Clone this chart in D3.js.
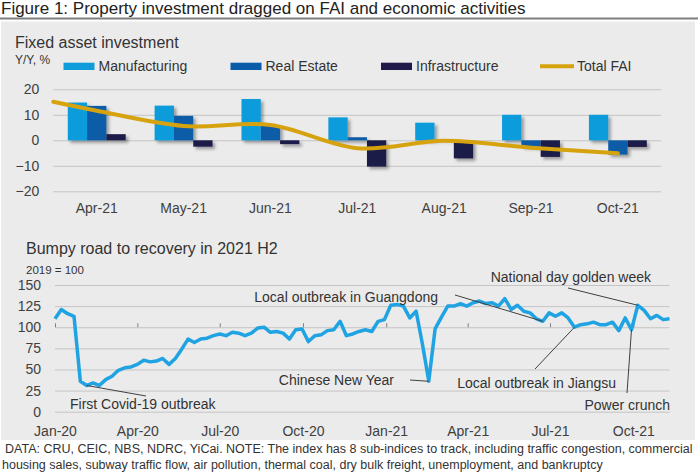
<!DOCTYPE html>
<html>
<head>
<meta charset="utf-8">
<script src="https://cdn.jsdelivr.net/npm/d3@7"></script>
<style>
  body { margin: 0; background: #fff; }
  svg { display: block; font-family: "Liberation Sans", Arial, sans-serif; }
  .grid line { stroke: #c4c4c4; stroke-width: 1; }
  .grid path { display: none; }
  .ticklabels text { fill: #404040; }
</style>
</head>
<body>
<svg id="chart" width="698" height="473"></svg>
<script>
// --- Fixed asset investment (Y/Y, %) ---
const months = ['Apr-21', 'May-21', 'Jun-21', 'Jul-21', 'Aug-21', 'Sep-21', 'Oct-21'];
const seriesNames = ['Manufacturing', 'Real Estate', 'Infrastructure'];
const manufacturing = [14.8, 13.6, 16.2, 9.0, 6.9, 10.0, 10.0];
const realEstate = [13.5, 9.6, 6.0, 1.2, 0.3, -2.5, -5.6];
const infrastructure = [2.4, -2.5, -1.5, -10.3, -7.1, -6.5, -2.6];
const totalFaiStart = 15.1;   // where the smoothed line enters on the left edge
const totalFai = [11.6, 5.6, 6.0, -3.1, -0.2, -2.9, -5.1];
const faiTicks = [-20, -10, 0, 10, 20];

// --- Activity index, 2019 = 100, weekly from 1 Jan 2020 ---
const activityStart = new Date(2020, 0, 1);
const activity = [
  110, 121, 116, 113, 36, 31, 34, 31, 38, 42,
  49, 52, 53, 56, 61, 59, 60, 63, 56, 63,
  74, 86, 82, 86, 87, 90, 92, 90, 94, 93,
  90, 93, 99, 100, 94, 95, 93, 86, 97, 98,
  83, 90, 91, 96, 97, 107, 90, 92, 95, 97,
  95, 107, 109, 126, 127, 125, 111, 119, 80, 36,
  98, 112, 125, 125, 128, 125, 129, 131, 128, 129,
  125, 134, 121, 126, 119, 117, 110, 107, 117, 113,
  117, 111, 100, 103, 104, 106, 103, 103, 106, 96,
  111, 97, 126, 120, 110, 114, 109, 110
];
const activityTicks = [0, 25, 50, 75, 100, 125, 150];
// week index of the point each note points to
const notes = [
  { text: 'First Covid-19 outbreak', week: 5, anchor: 'start', tx: 70, ty: 408.5, lx: 146, ly: 396 },
  { text: 'Chinese New Year', week: 59, anchor: 'end', tx: 394, ty: 384.5, lx: 410, ly: 380 },
  { text: 'Local outbreak in Guangdong', week: 77, anchor: 'end', tx: 438, ty: 301.5, lx: 455, ly: 295 },
  { text: 'Local outbreak in Jiangsu', week: 82, anchor: 'end', tx: 616, ty: 388, lx: 535, ly: 369 },
  { text: 'Power crunch', week: 91, anchor: 'end', tx: 670, ty: 410, lx: 627, ly: 393 },
  { text: 'National day golden week', week: 92, anchor: 'end', tx: 651, ty: 281.5, lx: 568, ly: 288 }
];

const svg = d3.select('#chart');
const textColor = '#333';

// filter for the bar shadow
const defs = svg.append('defs');
defs.append('filter').attr('id', 'shadow')
  .attr('x', '-20%').attr('y', '-20%').attr('width', '160%').attr('height', '160%')
  .append('feDropShadow')
  .attr('dx', 2.5).attr('dy', 2.5).attr('stdDeviation', 1.5)
  .attr('flood-color', '#000').attr('flood-opacity', 0.35);

svg.append('rect').attr('width', 698).attr('height', 473).attr('fill', '#fff');
svg.append('text')
  .attr('x', 1).attr('y', 13.5)
  .attr('font-size', 17).attr('fill', '#222')
  .text('Figure 1: Property investment dragged on FAI and economic activities');
svg.append('line')
  .attr('x1', 0).attr('x2', 698).attr('y1', 18.5).attr('y2', 18.5)
  .attr('stroke', '#7f7f7f').attr('stroke-width', 2);
svg.append('rect')
  .attr('x', 1).attr('y', 21.5).attr('width', 694).attr('height', 418.5)
  .attr('fill', '#ebebeb');

// ================= top chart =================
const fai = { left: 53.3, right: 661.3, top: 89.3, bottom: 191.3 };
const colors = { 'Manufacturing': '#0f9cdb', 'Real Estate': '#0a5ca8', 'Infrastructure': '#1f1a4a' };
const faiLine = '#d6a30f';

svg.append('text').attr('x', 15).attr('y', 47.5)
  .attr('font-size', 16).attr('fill', textColor).text('Fixed asset investment');
svg.append('text').attr('x', 15).attr('y', 63.5)
  .attr('font-size', 12).attr('fill', textColor).text('Y/Y, %');

const x0 = d3.scaleBand().domain(months)
  .range([fai.left, fai.right])
  .paddingInner(1 / 3).paddingOuter(1 / 6);
const x1 = d3.scaleBand().domain(seriesNames).range([0, x0.bandwidth()]);
const y = d3.scaleLinear().domain([-20, 20]).range([fai.bottom, fai.top]);

const yAxisTop = svg.append('g')
  .attr('class', 'grid ticklabels')
  .attr('transform', `translate(${fai.left},0)`)
  .call(d3.axisLeft(y).tickValues(faiTicks)
    .tickSize(-(fai.right - fai.left)).tickPadding(14));
yAxisTop.selectAll('text').attr('font-size', 14).attr('font-family', null);

svg.append('g')
  .attr('class', 'grid ticklabels')
  .attr('transform', `translate(0,${fai.bottom})`)
  .call(d3.axisBottom(x0).tickSize(0).tickPadding(12))
  .selectAll('text').attr('font-size', 14).attr('font-family', null);

const barRows = months.map((m, i) => ({
  month: m,
  values: [
    { name: 'Manufacturing', v: manufacturing[i] },
    { name: 'Real Estate', v: realEstate[i] },
    { name: 'Infrastructure', v: infrastructure[i] }
  ]
}));

const groups = svg.append('g').attr('filter', 'url(#shadow)')
  .selectAll('g').data(barRows).enter()
  .append('g')
  .attr('transform', d => `translate(${x0(d.month)},0)`);

groups.selectAll('rect').data(d => d.values).enter()
  .append('rect')
  .attr('x', d => x1(d.name))
  .attr('width', x1.bandwidth())
  .attr('y', d => y(Math.max(0, d.v)))
  .attr('height', d => Math.abs(y(d.v) - y(0)))
  .attr('fill', d => colors[d.name]);

const faiPoints = [[fai.left, totalFaiStart]]
  .concat(months.map((m, i) => [x0(m) + x0.bandwidth() / 2, totalFai[i]]));
svg.append('path')
  .datum(faiPoints)
  .attr('fill', 'none')
  .attr('stroke', faiLine)
  .attr('stroke-width', 4)
  .attr('stroke-linecap', 'round')
  .attr('d', d3.line().x(d => d[0]).y(d => y(d[1])).curve(d3.curveCatmullRom.alpha(0.5)));

// legend
const legendItems = [
  { name: 'Manufacturing', x: 63.5, type: 'bar' },
  { name: 'Real Estate', x: 230.5, type: 'bar' },
  { name: 'Infrastructure', x: 381, type: 'bar' },
  { name: 'Total FAI', x: 540, type: 'line' }
];
const legend = svg.append('g');
legendItems.forEach(it => {
  if (it.type === 'bar') {
    legend.append('rect').attr('x', it.x).attr('y', 62.7)
      .attr('width', 31).attr('height', 7.3).attr('fill', colors[it.name]);
  } else {
    legend.append('line').attr('x1', it.x).attr('x2', it.x + 34)
      .attr('y1', 66.3).attr('y2', 66.3)
      .attr('stroke', faiLine).attr('stroke-width', 4);
  }
  legend.append('text')
    .attr('x', it.x + (it.type === 'bar' ? 35 : 37)).attr('y', 71)
    .attr('font-size', 14).attr('fill', textColor).text(it.name);
});

// ================= bottom chart =================
const act = { left: 55, right: 669.5, top: 285, bottom: 411.7 };
const weeks = activity.map((v, i) => d3.timeDay.offset(activityStart, 7 * i));

svg.append('text').attr('x', 26).attr('y', 253.5)
  .attr('font-size', 16).attr('fill', textColor).text('Bumpy road to recovery in 2021 H2');
svg.append('text').attr('x', 26).attr('y', 273.5)
  .attr('font-size', 11.5).attr('fill', textColor).text('2019 = 100');

const bx = d3.scaleTime().domain([weeks[0], weeks[weeks.length - 1]]).range([act.left, act.right]);
const by = d3.scaleLinear().domain([0, 150]).range([act.bottom, act.top]);

const yAxisBottom = svg.append('g')
  .attr('class', 'grid ticklabels')
  .attr('transform', `translate(${act.left},0)`)
  .call(d3.axisLeft(by).tickValues(activityTicks)
    .tickSize(-(act.right - act.left)).tickPadding(14));
yAxisBottom.selectAll('text').attr('font-size', 14).attr('font-family', null);
yAxisBottom.selectAll('.tick').filter(d => d === 100).select('line')
  .attr('stroke', '#808080').attr('stroke-width', 1.5);

// category axis crosses at 100, tick marks point up, labels sit under the plot
const quarterTicks = bx.ticks(d3.timeMonth.every(3));
svg.append('g')
  .attr('transform', `translate(0,${by(100)})`)
  .call(d3.axisTop(bx).tickValues(quarterTicks).tickSize(4).tickFormat(''))
  .call(g => g.select('.domain').remove())
  .selectAll('line').attr('stroke', '#808080');

svg.append('g')
  .attr('class', 'ticklabels')
  .attr('transform', `translate(0,${act.bottom})`)
  .call(d3.axisBottom(bx).tickValues(quarterTicks).tickSize(0).tickPadding(14)
    .tickFormat(d3.timeFormat('%b-%y')))
  .call(g => g.select('.domain').remove())
  .selectAll('text').attr('font-size', 14).attr('font-family', null);

svg.append('path')
  .datum(activity)
  .attr('fill', 'none')
  .attr('stroke', '#1fa3e2')
  .attr('stroke-width', 3.5)
  .attr('stroke-linejoin', 'round')
  .attr('d', d3.line().x((d, i) => bx(weeks[i])).y(d => by(d)));

// annotations
const noteLayer = svg.append('g');
notes.forEach(n => {
  noteLayer.append('line')
    .attr('x1', n.lx).attr('y1', n.ly)
    .attr('x2', bx(weeks[n.week])).attr('y2', by(activity[n.week]))
    .attr('stroke', '#404040').attr('stroke-width', 1);
  noteLayer.append('text')
    .attr('x', n.tx).attr('y', n.ty)
    .attr('text-anchor', n.anchor)
    .attr('font-size', 14).attr('fill', textColor).text(n.text);
});

// source note
const sourceLines = [
  'DATA: CRU, CEIC, NBS, NDRC, YiCai. NOTE: The index has 8 sub-indices to track, including traffic congestion, commercial',
  'housing sales, subway traffic flow, air pollution, thermal coal, dry bulk freight, unemployment, and bankruptcy'
];
svg.append('g').selectAll('text').data(sourceLines).enter()
  .append('text')
  .attr('x', (d, i) => i === 0 ? 5 : 2)
  .attr('y', (d, i) => 453 + i * 16)
  .attr('font-size', 12.5).attr('fill', textColor)
  .text(d => d);
</script>
</body>
</html>
